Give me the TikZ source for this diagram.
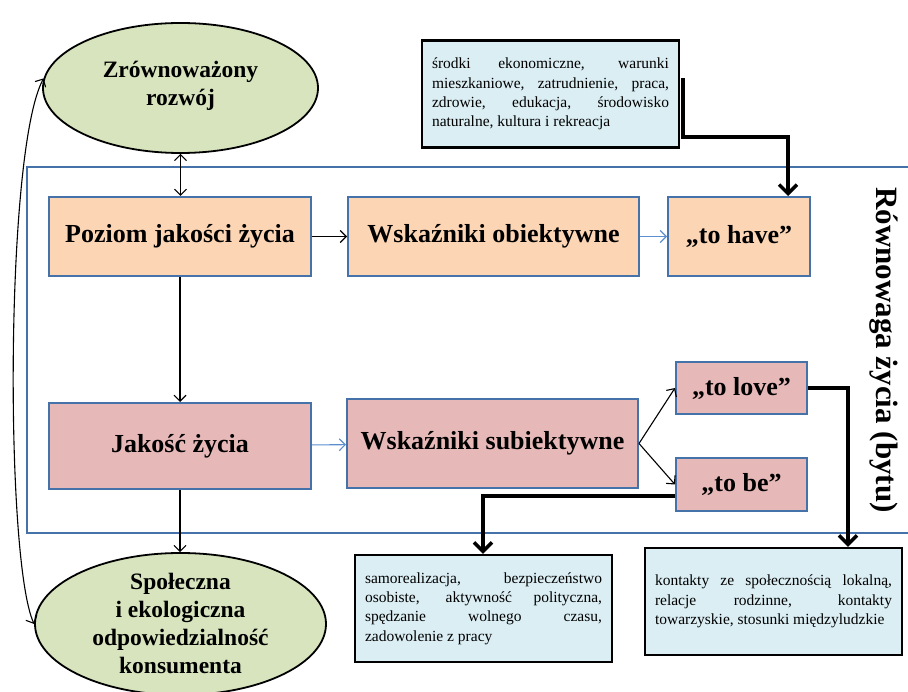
\documentclass[tikz,border=0pt]{standalone}
\usepackage{fontspec}
\setmainfont{Liberation Serif}
\usetikzlibrary{arrows.meta,shapes.geometric}
\definecolor{ellgreen}{HTML}{D7E4BD}
\definecolor{peach}{HTML}{FCD5B5}
\definecolor{rose}{HTML}{E6B9B8}
\definecolor{lblue}{HTML}{DBEEF4}
\definecolor{frameblue}{HTML}{4672AA}
\definecolor{arrblue}{HTML}{5B8FD0}
\hyphenpenalty=10000
\exhyphenpenalty=10000
\begin{document}
\begin{tikzpicture}[x=1pt,y=-1pt,
  ellshape/.style={ellipse, draw=black, line width=1.8pt, fill=ellgreen, inner sep=0pt},
  elltext/.style={align=center, inner sep=0pt, font=\fontsize{23.5}{28}\selectfont\bfseries},
  mainbox/.style={rectangle, draw=frameblue, line width=2pt, inner sep=0pt, font=\fontsize{26}{30}\selectfont\bfseries},
  infobox/.style={rectangle, draw=black, line width=2.2pt, fill=lblue, inner xsep=10pt, inner ysep=0pt, minimum height=107pt, text width=237pt, align=justify, font=\fontsize{15.5}{19.3}\selectfont},
  conn/.style={line width=1.1pt, -{Straight Barb[length=6pt,width=12pt]}},
  connblue/.style={conn, draw=arrblue},
  bigarrow/.style={line width=3.5pt, -{Straight Barb[length=9pt,width=18pt]}},
]
\useasboundingbox (0,0) rectangle (908,692);

% frame
\draw[frameblue, line width=2pt] (910,167) -- (27,167) -- (27,533) -- (910,533);
\node[rotate=-90, inner sep=0pt, font=\fontsize{31}{36}\selectfont\bfseries] (lab) at (884,350) {Równowaga życia (bytu)};

% ellipses
\node[ellshape, minimum width=275pt, minimum height=130pt] (zr) at (180.5,88) {};
\node[elltext] (zrt) at (180.5,86) {Zrównoważony\\rozwój};
\node[ellshape, minimum width=291pt, minimum height=142pt] (sp) at (180.5,624) {};
\node[elltext] (spt) at (180.5,623) {Społeczna\\i ekologiczna\\odpowiedzialność\\konsumenta};

% main boxes
\node[mainbox, fill=peach, minimum width=262pt, minimum height=79pt] (pz) at (180,236.5) {Poziom jakości życia};
\node[mainbox, fill=peach, minimum width=291pt, minimum height=79pt] (wo) at (493.5,236.5) {Wskaźniki obiektywne};
\node[mainbox, fill=peach, minimum width=142pt, minimum height=79pt] (th) at (739,236.5) {„to have”};
\node[mainbox, fill=rose, minimum width=262pt, minimum height=86pt] (jz) at (180,446) {Jakość życia};
\node[mainbox, fill=rose, minimum width=291pt, minimum height=89pt] (ws) at (492.5,443.5) {Wskaźniki subiektywne};
\node[mainbox, fill=rose, minimum width=131pt, minimum height=52pt] (tl) at (741.5,388) {„to love”};
\node[mainbox, fill=rose, minimum width=131pt, minimum height=53pt] (tb) at (741.5,484.5) {„to be”};

% info boxes
\node[infobox] (ib1) at (550.5,94) {środki ekonomiczne, warunki\linebreak mieszkaniowe, zatrudnienie, praca,\linebreak zdrowie, edukacja, środowisko\linebreak naturalne, kultura i rekreacja};
\node[infobox] (ib2) at (483.5,608.5) {samorealizacja, bezpieczeństwo\linebreak osobiste, aktywność polityczna,\linebreak spędzanie wolnego czasu,\linebreak zadowolenie z pracy};
\node[infobox] (ib3) at (773.5,601.5) {kontakty ze społecznością lokalną,\linebreak relacje rodzinne, kontakty\linebreak towarzyskie, stosunki międzyludzkie};

% thin connectors
\draw[conn, {Straight Barb[length=6pt,width=12pt]}-{Straight Barb[length=6pt,width=12pt]}] (zr.south) -- (zr.south |- pz.north);
\draw[conn] (pz) -- (wo);
\draw[connblue] (wo) -- (th);
\draw[conn] (pz) -- (jz);
\draw[connblue] (jz) -- (ws);
\draw[conn] (jz.south) -- (jz.south |- sp.north);
\draw[conn] (ws.east) -- (tl.west);
\draw[conn] (ws.east) -- (tb.west);
\draw[conn, {Straight Barb[length=6pt,width=12pt]}-{Straight Barb[length=6pt,width=12pt]}] (sp.west) .. controls (5,560) and (5,150) .. (zr.176);

% thick connectors
\coordinate (s1) at (683,78);
\coordinate (k1) at (788,137);
\draw[bigarrow] (s1) |- (k1) -- (k1 |- th.north);
\coordinate (k2) at (848,388);
\draw[bigarrow] (tl.east) -- (k2) -- (k2 |- ib3.north);
\coordinate (k3) at (483,496);
\draw[bigarrow] (tb.west |- k3) -- (k3) -- (k3 |- ib2.north);
\end{tikzpicture}
\end{document}
